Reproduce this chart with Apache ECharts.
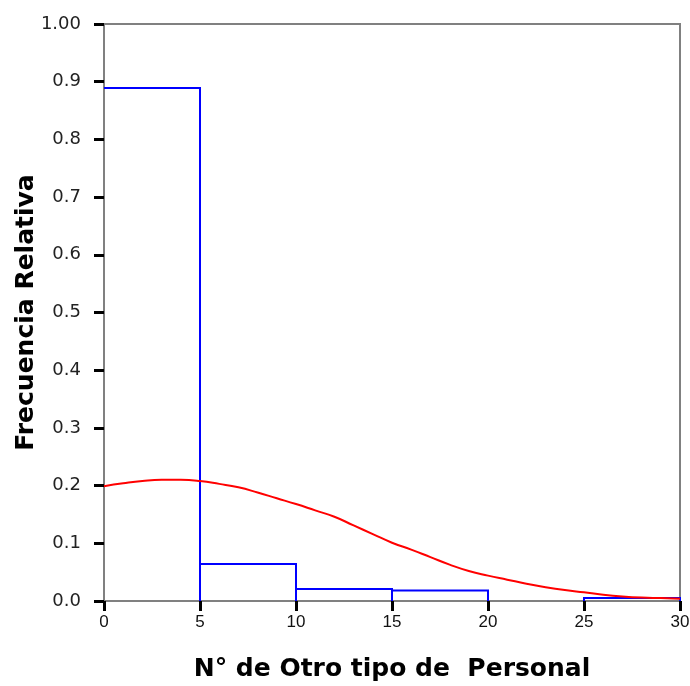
<!DOCTYPE html>
<html>
<head>
<meta charset="utf-8">
<script src="https://cdn.jsdelivr.net/npm/echarts@6/dist/echarts.min.js"></script>
<style>html,body{margin:0;padding:0;background:#fff}#c{width:690px;height:686px}</style>
</head>
<body>
<div id="c"></div>
<script>
// Histogram bins: [start, end, relative frequency]
const binStarts = [0, 5, 10, 15, 20, 25];
const binEnds = [5, 10, 15, 20, 25, 30];
const binFreq = [0.889, 0.064, 0.021, 0.018, 0, 0.005];
// Fitted curve points
const curveX = [0,1,2,3,4,5,6,7,8,9,10,11,12,13,14,15,16,17,18,19,20,21,22,23,24,25,26,27,28,29,30];
const curveY = [0.199,0.204,0.208,0.210,0.210,0.208,0.203,0.197,0.188,0.178,0.168,0.157,0.146,0.131,0.116,0.101,0.089,0.076,0.063,0.052,0.044,0.037,0.030,0.024,0.019,0.015,0.011,0.008,0.006,0.005,0.004];
const xTicks = [0,5,10,15,20,25,30];
const yTicks = [0,0.1,0.2,0.3,0.4,0.5,0.6,0.7,0.8,0.9,1.0];

const binData = binStarts.map((s,i)=>[s, binEnds[i], binFreq[i]]).filter(d=>d[2]>0);
const curveData = curveX.map((x,i)=>[x, curveY[i]]);

const chart = echarts.init(document.getElementById('c'), null, {renderer:'canvas'});
chart.setOption({
  backgroundColor: '#ffffff',
  animation: false,
  grid: {left: 104, right: 10, top: 24, bottom: 85, containLabel: false, outerBoundsMode: 'none',
         show: true, borderColor: '#808080', borderWidth: 2, backgroundColor: 'transparent'},
  xAxis: {
    type: 'value', min: 0, max: 30, interval: 5,
    name: 'N° de Otro tipo de  Personal', nameLocation: 'middle', nameGap: 56, nameMoveOverlap: false,
    nameTextStyle: {fontFamily: 'DejaVu Sans', fontWeight: 'bold', fontSize: 25, color: '#000'},
    axisLine: {show: true, lineStyle: {color: '#808080', width: 2}},
    axisTick: {show: true, length: 10, inside: false, lineStyle: {color: '#000', width: 3}},
    axisLabel: {fontFamily: 'Liberation Sans', fontSize: 17, color: '#111', margin: 13,
      formatter: v => xTicks.includes(v) ? String(v) : ''},
    splitLine: {show: false}
  },
  yAxis: {
    type: 'value', min: 0, max: 1, interval: 0.1,
    name: 'Frecuencia Relativa', nameLocation: 'middle', nameGap: 65, nameRotate: 90, nameMoveOverlap: false,
    nameTextStyle: {fontFamily: 'DejaVu Sans', fontWeight: 'bold', fontSize: 25, color: '#000'},
    axisLine: {show: true, lineStyle: {color: '#808080', width: 2}},
    axisTick: {show: true, length: 10, lineStyle: {color: '#000', width: 3}},
    axisLabel: {fontFamily: 'DejaVu Sans', fontSize: 18, color: '#222', margin: 23,
      formatter: v => {
        const t = yTicks.find(y => Math.abs(y - v) < 1e-6);
        if (t === undefined) return '';
        return t === 1 ? '1.00' : t.toFixed(1);
      }},
    splitLine: {show: false}
  },
  series: [
    {
      type: 'custom',
      data: binData,
      encode: {x: [0, 1], y: 2},
      z: 2,
      renderItem: function (params, api) {
        const s = api.value(0), e = api.value(1), h = api.value(2);
        const a = api.coord([s, 0]), b = api.coord([s, h]), c = api.coord([e, h]), d = api.coord([e, 0]);
        const pts = s > 0 ? [a, b, c, d] : [b, c, d];
        return {
          type: 'polyline',
          shape: {points: pts},
          style: {fill: 'none', stroke: '#0000ff', lineWidth: 2}
        };
      }
    },
    {
      type: 'line',
      data: curveData,
      smooth: true,
      showSymbol: false,
      z: 3,
      lineStyle: {color: '#ff0000', width: 2}
    }
  ]
});
</script>
</body>
</html>
